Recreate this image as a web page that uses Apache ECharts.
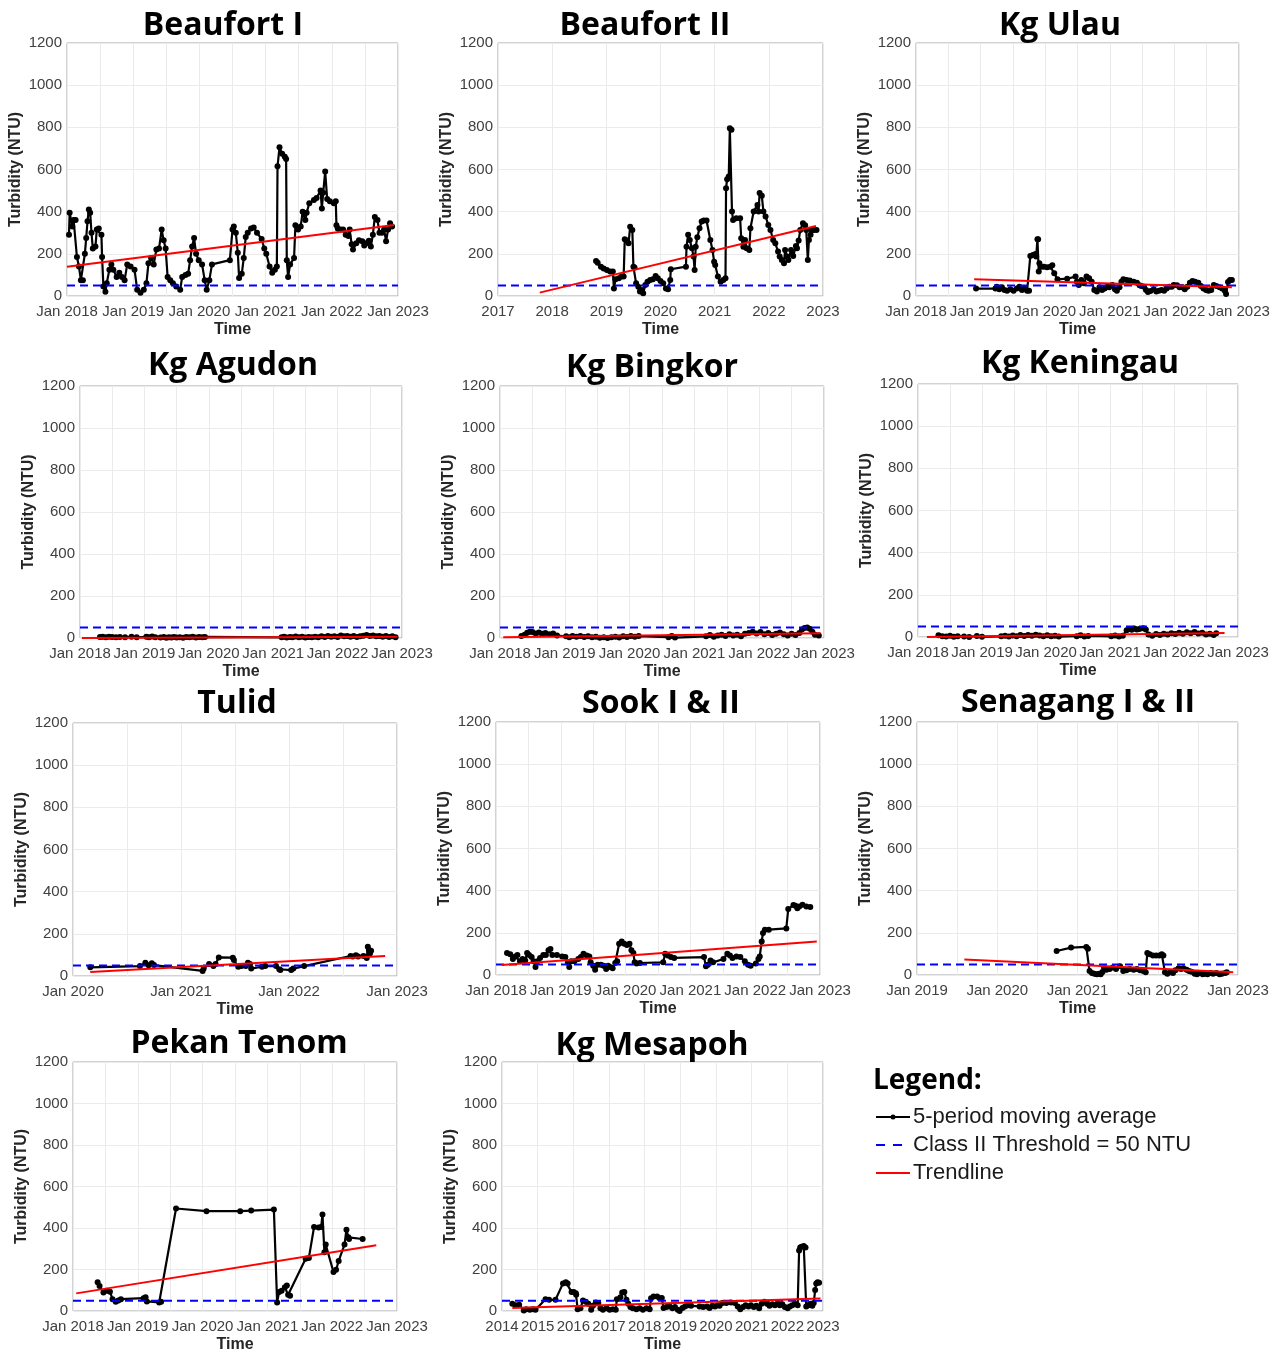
<!DOCTYPE html>
<html>
<head>
<meta charset="utf-8">
<script src="https://cdn.jsdelivr.net/npm/echarts@6/dist/echarts.min.js"></script>
<style>
  html, body { margin: 0; padding: 0; background: #fff; }
  #chart { width: 1280px; height: 1354px; }
</style>
</head>
<body>
<div id="chart"></div>
<script>
// Turbidity (NTU) 5-period moving averages per station, x = decimal year
const CLASS_II_THRESHOLD = 50;

const beaufortI = [[2018.03,290],[2018.04,395],[2018.08,330],[2018.10,360],[2018.13,360],[2018.15,185],[2018.18,140],[2018.21,75],[2018.24,75],[2018.27,200],[2018.29,275],[2018.31,355],[2018.33,410],[2018.35,395],[2018.37,300],[2018.39,225],[2018.43,235],[2018.45,315],[2018.48,320],[2018.52,290],[2018.53,185],[2018.55,45],[2018.58,20],[2018.60,60],[2018.64,125],[2018.67,150],[2018.70,125],[2018.75,90],[2018.79,110],[2018.83,90],[2018.87,75],[2018.91,150],[2018.96,140],[2019.02,125],[2019.06,30],[2019.11,15],[2019.16,30],[2019.20,60],[2019.23,155],[2019.27,180],[2019.31,150],[2019.35,220],[2019.39,225],[2019.43,315],[2019.46,265],[2019.49,225],[2019.52,90],[2019.56,75],[2019.60,60],[2019.65,45],[2019.71,30],[2019.74,90],[2019.79,100],[2019.83,105],[2019.86,170],[2019.89,235],[2019.92,275],[2019.95,200],[2019.99,170],[2020.04,150],[2020.08,75],[2020.11,30],[2020.15,75],[2020.19,150],[2020.46,170],[2020.50,315],[2020.52,330],[2020.55,300],[2020.58,205],[2020.60,85],[2020.64,105],[2020.67,180],[2020.70,280],[2020.73,300],[2020.78,320],[2020.82,325],[2020.87,300],[2020.94,270],[2020.98,225],[2021.01,200],[2021.06,140],[2021.10,110],[2021.14,125],[2021.17,140],[2021.18,615],[2021.21,705],[2021.25,675],[2021.29,660],[2021.31,650],[2021.32,170],[2021.34,90],[2021.37,150],[2021.43,180],[2021.45,335],[2021.49,315],[2021.53,330],[2021.56,400],[2021.60,360],[2021.62,395],[2021.66,440],[2021.73,455],[2021.77,465],[2021.83,500],[2021.85,415],[2021.87,490],[2021.90,590],[2021.93,460],[2021.97,450],[2022.03,440],[2022.06,450],[2022.07,335],[2022.09,320],[2022.13,315],[2022.17,315],[2022.21,290],[2022.25,285],[2022.27,315],[2022.30,245],[2022.32,220],[2022.37,250],[2022.41,265],[2022.46,260],[2022.49,240],[2022.52,250],[2022.56,262],[2022.59,235],[2022.62,290],[2022.65,375],[2022.69,360],[2022.72,300],[2022.76,300],[2022.79,315],[2022.82,260],[2022.85,315],[2022.88,345],[2022.91,330]];
const beaufortITrend = [[2018.00,139],[2022.94,337]];

const beaufortII = [[2018.81,166],[2018.84,158],[2018.90,139],[2018.95,131],[2019.01,123],[2019.07,116],[2019.12,116],[2019.14,36],[2019.17,79],[2019.23,84],[2019.28,92],[2019.32,92],[2019.34,269],[2019.38,263],[2019.41,250],[2019.44,329],[2019.48,313],[2019.50,139],[2019.52,135],[2019.55,60],[2019.59,44],[2019.62,21],[2019.66,28],[2019.68,13],[2019.72,52],[2019.76,68],[2019.81,76],[2019.86,79],[2019.91,95],[2019.95,84],[2020.00,71],[2020.05,60],[2020.10,36],[2020.14,32],[2020.18,76],[2020.19,127],[2020.47,139],[2020.48,234],[2020.51,290],[2020.54,266],[2020.58,226],[2020.61,187],[2020.63,123],[2020.65,234],[2020.68,279],[2020.72,321],[2020.76,353],[2020.80,358],[2020.85,358],[2020.92,266],[2020.96,218],[2020.99,163],[2021.01,147],[2021.06,92],[2021.11,68],[2021.16,76],[2021.20,84],[2021.21,511],[2021.23,554],[2021.26,567],[2021.28,796],[2021.31,788],[2021.32,401],[2021.34,361],[2021.40,369],[2021.47,369],[2021.49,274],[2021.53,234],[2021.56,266],[2021.59,226],[2021.64,218],[2021.66,321],[2021.72,401],[2021.79,432],[2021.81,401],[2021.83,488],[2021.87,475],[2021.90,401],[2021.94,377],[2021.99,337],[2022.03,313],[2022.08,266],[2022.12,250],[2022.17,211],[2022.20,187],[2022.24,171],[2022.28,155],[2022.30,218],[2022.34,187],[2022.36,171],[2022.41,218],[2022.45,190],[2022.50,237],[2022.52,226],[2022.55,263],[2022.58,313],[2022.63,345],[2022.67,336],[2022.69,313],[2022.72,171],[2022.74,266],[2022.77,290],[2022.79,313],[2022.83,313],[2022.88,313]];
const beaufortIITrend = [[2017.77,16],[2022.87,332]];

const kgUlau = [[2018.93,35],[2019.23,35],[2019.25,44],[2019.29,32],[2019.33,41],[2019.37,28],[2019.41,25],[2019.46,32],[2019.51,25],[2019.56,36],[2019.60,44],[2019.64,28],[2019.68,36],[2019.72,25],[2019.75,25],[2019.77,190],[2019.81,195],[2019.85,199],[2019.86,187],[2019.88,269],[2019.89,269],[2019.90,116],[2019.91,155],[2019.94,139],[2019.98,139],[2020.03,136],[2020.08,139],[2020.11,146],[2020.14,108],[2020.19,79],[2020.34,82],[2020.47,92],[2020.49,68],[2020.52,52],[2020.56,76],[2020.60,60],[2020.64,92],[2020.68,84],[2020.72,68],[2020.76,28],[2020.80,21],[2020.84,41],[2020.88,28],[2020.92,35],[2020.96,44],[2020.99,41],[2021.04,52],[2021.08,32],[2021.11,25],[2021.15,41],[2021.18,68],[2021.21,79],[2021.26,76],[2021.31,73],[2021.37,68],[2021.42,63],[2021.46,51],[2021.49,47],[2021.53,44],[2021.56,28],[2021.59,19],[2021.63,24],[2021.68,32],[2021.72,21],[2021.76,25],[2021.80,28],[2021.84,25],[2021.88,36],[2021.92,44],[2021.96,44],[2021.99,52],[2022.04,51],[2022.08,41],[2022.12,41],[2022.16,32],[2022.20,44],[2022.24,63],[2022.28,71],[2022.32,68],[2022.37,63],[2022.41,47],[2022.45,35],[2022.49,28],[2022.53,25],[2022.57,28],[2022.61,52],[2022.65,47],[2022.70,41],[2022.74,35],[2022.78,25],[2022.80,10],[2022.83,66],[2022.86,76],[2022.89,76]];
const kgUlauTrend = [[2018.90,79],[2022.89,41]];

const kgAgudon = [[2018.31,5],[2018.35,6],[2018.40,4],[2018.45,6],[2018.50,5],[2018.56,3],[2018.62,5],[2018.70,4],[2018.80,6],[2018.88,3],[2019.03,6],[2019.07,4],[2019.12,7],[2019.17,4],[2019.25,2],[2019.30,5],[2019.34,1],[2019.38,4],[2019.42,2],[2019.46,5],[2019.50,2],[2019.55,4],[2019.60,1],[2019.65,5],[2019.70,3],[2019.75,6],[2019.80,2],[2019.85,5],[2019.90,3],[2019.94,5],[2021.13,3],[2021.17,6],[2021.21,2],[2021.26,5],[2021.30,3],[2021.35,7],[2021.40,4],[2021.45,6],[2021.50,2],[2021.55,5],[2021.60,3],[2021.65,6],[2021.70,4],[2021.75,8],[2021.80,5],[2021.85,10],[2021.90,6],[2021.95,8],[2022.00,5],[2022.05,12],[2022.10,8],[2022.15,10],[2022.20,6],[2022.25,9],[2022.30,5],[2022.35,8],[2022.40,11],[2022.45,14],[2022.50,10],[2022.55,12],[2022.60,8],[2022.65,10],[2022.70,6],[2022.75,9],[2022.80,5],[2022.85,8],[2022.90,4]];
const kgAgudonTrend = [[2018.03,0],[2022.93,6]];

const kgBingkor = [[2018.33,10],[2018.38,15],[2018.42,25],[2018.46,30],[2018.50,28],[2018.55,22],[2018.60,26],[2018.65,20],[2018.70,24],[2018.76,18],[2018.82,22],[2018.88,12],[2019.02,8],[2019.07,4],[2019.12,10],[2019.18,6],[2019.24,9],[2019.30,5],[2019.36,8],[2019.42,3],[2019.48,6],[2019.54,1],[2019.60,4],[2019.66,0],[2019.72,3],[2019.78,6],[2019.84,2],[2019.90,8],[2019.96,5],[2020.02,10],[2020.08,6],[2020.14,9],[2020.60,4],[2020.65,10],[2020.70,2],[2021.18,8],[2021.24,14],[2021.30,6],[2021.36,12],[2021.42,16],[2021.48,10],[2021.54,18],[2021.60,12],[2021.66,16],[2021.72,8],[2021.78,20],[2021.84,24],[2021.90,30],[2021.96,22],[2022.02,28],[2022.08,18],[2022.14,24],[2022.20,14],[2022.26,20],[2022.32,26],[2022.38,18],[2022.44,12],[2022.50,20],[2022.56,14],[2022.62,24],[2022.66,40],[2022.70,48],[2022.74,50],[2022.78,44],[2022.82,30],[2022.86,16],[2022.92,12]];
const kgBingkorTrend = [[2018.05,3],[2022.95,23]];

const kgKeningau = [[2018.32,8],[2018.38,4],[2018.44,2],[2018.50,6],[2018.56,1],[2018.62,4],[2018.72,2],[2018.80,0],[2018.92,5],[2019.00,1],[2019.30,3],[2019.36,6],[2019.42,2],[2019.48,7],[2019.54,4],[2019.60,9],[2019.66,5],[2019.72,10],[2019.78,6],[2019.84,11],[2019.90,7],[2019.96,4],[2020.02,8],[2020.08,3],[2020.14,6],[2020.20,2],[2020.48,4],[2020.54,8],[2020.60,2],[2020.66,5],[2021.02,3],[2021.08,7],[2021.14,2],[2021.20,6],[2021.26,32],[2021.30,38],[2021.34,34],[2021.38,40],[2021.42,35],[2021.46,38],[2021.52,42],[2021.56,36],[2021.60,12],[2021.66,6],[2021.72,14],[2021.78,9],[2021.84,16],[2021.90,12],[2021.96,18],[2022.02,14],[2022.08,20],[2022.14,16],[2022.20,22],[2022.26,18],[2022.32,24],[2022.38,17],[2022.44,20],[2022.50,12],[2022.56,16],[2022.62,10],[2022.66,18]];
const kgKeningauTrend = [[2018.14,0],[2022.79,19]];

const tulid = [[2020.16,41],[2020.62,47],[2020.67,63],[2020.70,51],[2020.73,60],[2020.75,52],[2021.20,24],[2021.21,36],[2021.26,57],[2021.30,47],[2021.32,57],[2021.35,88],[2021.48,87],[2021.49,76],[2021.53,44],[2021.56,47],[2021.60,47],[2021.62,63],[2021.64,57],[2021.65,35],[2021.75,44],[2021.78,47],[2021.88,47],[2021.91,32],[2021.92,28],[2022.02,28],[2022.04,35],[2022.14,47],[2022.57,95],[2022.59,92],[2022.62,98],[2022.64,92],[2022.69,95],[2022.72,85],[2022.73,139],[2022.74,123],[2022.75,107],[2022.76,120]];
const tulidTrend = [[2020.16,19],[2022.89,95]];

const sook = [[2018.17,104],[2018.22,99],[2018.26,76],[2018.30,88],[2018.33,95],[2018.37,65],[2018.41,76],[2018.45,69],[2018.48,104],[2018.51,95],[2018.55,85],[2018.58,65],[2018.61,38],[2018.64,65],[2018.68,81],[2018.73,95],[2018.77,95],[2018.81,117],[2018.84,123],[2018.87,95],[2018.94,95],[2019.02,88],[2019.07,85],[2019.11,60],[2019.13,38],[2019.16,65],[2019.21,65],[2019.27,76],[2019.31,85],[2019.35,101],[2019.40,92],[2019.44,88],[2019.46,60],[2019.50,44],[2019.53,25],[2019.57,49],[2019.62,49],[2019.66,44],[2019.70,28],[2019.73,44],[2019.76,38],[2019.80,32],[2019.84,57],[2019.87,65],[2019.90,148],[2019.94,159],[2019.98,148],[2020.02,142],[2020.06,148],[2020.09,117],[2020.12,104],[2020.14,60],[2020.17,54],[2020.22,57],[2020.58,60],[2020.61,101],[2020.65,92],[2020.70,85],[2020.75,81],[2021.21,85],[2021.24,41],[2021.27,49],[2021.31,69],[2021.35,60],[2021.51,76],[2021.57,101],[2021.61,92],[2021.65,81],[2021.71,88],[2021.77,85],[2021.84,65],[2021.89,49],[2021.93,44],[2022.01,54],[2022.05,76],[2022.07,88],[2022.10,159],[2022.12,199],[2022.15,215],[2022.21,215],[2022.48,221],[2022.51,313],[2022.59,332],[2022.62,329],[2022.65,317],[2022.68,325],[2022.73,333],[2022.79,325],[2022.85,322]];
const sookTrend = [[2018.09,47],[2022.95,159]];

const senagang = [[2020.74,114],[2020.92,130],[2021.11,133],[2021.13,125],[2021.15,19],[2021.18,9],[2021.21,6],[2021.24,3],[2021.27,6],[2021.29,3],[2021.31,14],[2021.33,35],[2021.36,25],[2021.40,28],[2021.44,35],[2021.48,28],[2021.53,41],[2021.57,19],[2021.61,22],[2021.65,28],[2021.70,25],[2021.74,28],[2021.78,22],[2021.82,19],[2021.85,13],[2021.87,104],[2021.90,98],[2021.94,93],[2021.98,92],[2022.02,92],[2022.05,98],[2022.07,92],[2022.09,13],[2022.12,6],[2022.16,13],[2022.19,9],[2022.22,22],[2022.26,32],[2022.29,28],[2022.32,32],[2022.36,25],[2022.39,19],[2022.42,16],[2022.46,6],[2022.49,3],[2022.52,9],[2022.56,3],[2022.59,6],[2022.62,3],[2022.66,9],[2022.69,6],[2022.73,9],[2022.77,3],[2022.80,6],[2022.84,9],[2022.86,13]];
const senagangTrend = [[2019.59,73],[2022.94,13]];

const pekanTenom = [[2018.38,139],[2018.41,120],[2018.47,89],[2018.52,98],[2018.57,93],[2018.61,57],[2018.66,44],[2018.70,51],[2018.74,57],[2019.09,62],[2019.12,66],[2019.14,46],[2019.33,41],[2019.36,44],[2019.59,494],[2020.06,481],[2020.58,481],[2020.75,484],[2021.10,489],[2021.15,41],[2021.18,92],[2021.22,98],[2021.27,114],[2021.30,123],[2021.32,78],[2021.35,73],[2021.59,252],[2021.64,256],[2021.72,405],[2021.79,402],[2021.83,405],[2021.85,465],[2021.88,283],[2021.90,320],[2022.02,188],[2022.06,199],[2022.10,241],[2022.19,320],[2022.22,392],[2022.25,355],[2022.26,347],[2022.47,347]];
const pekanTenomTrend = [[2018.05,85],[2022.68,317]];

const kgMesapoh = [[2014.29,35],[2014.38,28],[2014.48,30],[2014.61,3],[2014.68,9],[2014.78,6],[2014.87,9],[2014.94,6],[2015.22,57],[2015.32,54],[2015.50,54],[2015.71,133],[2015.79,139],[2015.84,133],[2015.95,92],[2016.01,92],[2016.07,85],[2016.08,78],[2016.12,9],[2016.20,13],[2016.27,51],[2016.35,44],[2016.42,35],[2016.50,6],[2016.55,25],[2016.63,41],[2016.70,38],[2016.76,13],[2016.83,6],[2016.93,13],[2017.02,6],[2017.11,9],[2017.19,6],[2017.22,57],[2017.32,66],[2017.37,89],[2017.43,92],[2017.49,54],[2017.54,35],[2017.60,19],[2017.67,13],[2017.77,9],[2017.86,13],[2017.95,6],[2018.05,13],[2018.14,9],[2018.18,62],[2018.25,70],[2018.35,70],[2018.42,62],[2018.48,63],[2018.53,14],[2018.61,19],[2018.70,22],[2018.78,13],[2018.85,19],[2018.93,6],[2018.98,0],[2019.06,14],[2019.13,22],[2019.21,28],[2019.30,25],[2019.54,22],[2019.64,19],[2019.75,22],[2019.82,14],[2019.90,25],[2019.97,22],[2020.05,28],[2020.10,25],[2020.18,38],[2020.29,38],[2020.42,41],[2020.53,38],[2020.61,22],[2020.68,9],[2020.76,19],[2020.83,28],[2020.91,22],[2020.98,28],[2021.06,19],[2021.13,25],[2021.21,13],[2021.28,35],[2021.36,44],[2021.43,35],[2021.50,25],[2021.58,32],[2021.65,28],[2021.73,35],[2021.79,28],[2021.86,32],[2021.93,19],[2022.01,13],[2022.07,22],[2022.14,28],[2022.21,35],[2022.29,28],[2022.33,291],[2022.36,306],[2022.40,310],[2022.46,313],[2022.51,306],[2022.53,22],[2022.59,28],[2022.64,35],[2022.70,25],[2022.74,38],[2022.78,101],[2022.81,133],[2022.85,139],[2022.89,136]];
const kgMesapohTrend = [[2014.29,14],[2022.93,60]];

// Axis tick text
const yTicks = { min: 0, max: 1200, step: 200 };
const ntuLabel = v => String(Math.round(v));
const janYearLabel = v => { const h = Math.round(v * 2) / 2; return Number.isInteger(h) ? 'Jan ' + h : ''; };
const yearLabel = v => String(Math.round(v));

// Panel layout: plot box [left, top, width, height] and title centre
const panels = [
  { title: 'Beaufort I',       data: beaufortI,  trend: beaufortITrend,  xr: [2018, 2023, 0.5], fmt: janYearLabel, box: [67, 43, 331, 253],  tc: [223, 26] },
  { title: 'Beaufort II',      data: beaufortII, trend: beaufortIITrend, xr: [2017, 2023, 1],   fmt: yearLabel,    box: [498, 43, 325, 253], tc: [645, 26] },
  { title: 'Kg Ulau',          data: kgUlau,     trend: kgUlauTrend,     xr: [2018, 2023, 0.5], fmt: janYearLabel, box: [916, 43, 323, 253], tc: [1060, 26] },
  { title: 'Kg Agudon',        data: kgAgudon,   trend: kgAgudonTrend,   xr: [2018, 2023, 0.5], fmt: janYearLabel, box: [80, 386, 322, 252], tc: [233, 366] },
  { title: 'Kg Bingkor',       data: kgBingkor,  trend: kgBingkorTrend,  xr: [2018, 2023, 0.5], fmt: janYearLabel, box: [500, 386, 324, 252], tc: [652, 368] },
  { title: 'Kg Keningau',      data: kgKeningau, trend: kgKeningauTrend, xr: [2018, 2023, 0.5], fmt: janYearLabel, box: [918, 384, 320, 253], tc: [1080, 364] },
  { title: 'Tulid',            data: tulid,      trend: tulidTrend,      xr: [2020, 2023, 0.5], fmt: janYearLabel, box: [73, 723, 324, 253],  tc: [237, 704] },
  { title: 'Sook I & II',      data: sook,       trend: sookTrend,       xr: [2018, 2023, 0.5], fmt: janYearLabel, box: [496, 722, 324, 253], tc: [661, 704] },
  { title: 'Senagang I & II',  data: senagang,   trend: senagangTrend,   xr: [2019, 2023, 0.5], fmt: janYearLabel, box: [917, 722, 321, 253], tc: [1078, 703] },
  { title: 'Pekan Tenom',      data: pekanTenom, trend: pekanTenomTrend, xr: [2018, 2023, 0.5], fmt: janYearLabel, box: [73, 1062, 324, 253], tc: [239, 1044] },
  { title: 'Kg Mesapoh',       data: kgMesapoh,  trend: kgMesapohTrend,  xr: [2014, 2023, 1],   fmt: yearLabel,    box: [502, 1062, 321, 253], tc: [652, 1046] }
];

const AXIS_FONT = '"Liberation Sans", Arial, sans-serif';
const TITLE_FONT = '"Open Sans", "Noto Sans", sans-serif';

const grid = [], xAxis = [], yAxis = [], series = [], graphic = [];

panels.forEach((p, i) => {
  const [l, t, w, h] = p.box;
  grid.push({ left: l, top: t, width: w, height: h, show: true, borderColor: '#a6a6a6', borderWidth: 1, backgroundColor: '#fff' });
  xAxis.push({
    type: 'value', gridIndex: i, min: p.xr[0], max: p.xr[1], interval: p.xr[2],
    name: 'Time', nameLocation: 'middle', nameGap: 26,
    nameTextStyle: { fontFamily: AXIS_FONT, fontWeight: 'bold', fontSize: 16, color: '#262626' },
    axisLine: { show: false }, axisTick: { show: false },
    splitLine: { show: true, lineStyle: { color: '#ebebeb', width: 1 } },
    axisLabel: { formatter: p.fmt, showMinLabel: true, showMaxLabel: true, margin: 8, color: '#404040', fontSize: 15, fontFamily: AXIS_FONT }
  });
  yAxis.push({
    type: 'value', gridIndex: i, min: yTicks.min, max: yTicks.max, interval: yTicks.step,
    name: 'Turbidity (NTU)', nameLocation: 'middle', nameGap: 43, nameRotate: 90,
    nameTextStyle: { fontFamily: AXIS_FONT, fontWeight: 'bold', fontSize: 16, color: '#262626' },
    axisLine: { show: false }, axisTick: { show: false },
    splitLine: { show: true, lineStyle: { color: '#ebebeb', width: 1 } },
    axisLabel: { formatter: ntuLabel, showMinLabel: true, showMaxLabel: true, margin: 5, color: '#404040', fontSize: 15, fontFamily: AXIS_FONT }
  });
  series.push({
    name: '5-period moving average', type: 'line', xAxisIndex: i, yAxisIndex: i, data: p.data,
    symbol: 'circle', symbolSize: 6, showSymbol: true,
    lineStyle: { color: '#000', width: 2.2 }, itemStyle: { color: '#000' }, z: 2
  });
  series.push({
    name: 'Class II Threshold', type: 'line', xAxisIndex: i, yAxisIndex: i,
    data: [[p.xr[0], CLASS_II_THRESHOLD], [p.xr[1], CLASS_II_THRESHOLD]],
    symbol: 'none', lineStyle: { color: '#0000ff', width: 2, type: [8, 5] }, z: 3
  });
  series.push({
    name: 'Trendline', type: 'line', xAxisIndex: i, yAxisIndex: i, data: p.trend,
    symbol: 'none', lineStyle: { color: '#ff0000', width: 2 }, z: 4
  });
  graphic.push({
    type: 'text', x: p.tc[0], y: p.tc[1],
    style: { text: p.title, fontFamily: TITLE_FONT, fontWeight: 'bold', fontSize: 32, fill: '#000', align: 'center', verticalAlign: 'middle' }
  });
});

// Legend block
const legendTextStyle = { fontFamily: AXIS_FONT, fontSize: 22, fill: '#1a1a1a', verticalAlign: 'middle', align: 'left' };
graphic.push(
  { type: 'text', x: 873, y: 1081, style: { text: 'Legend:', fontFamily: TITLE_FONT, fontWeight: 'bold', fontSize: 28, fill: '#000', verticalAlign: 'middle', align: 'left' } },
  { type: 'line', shape: { x1: 876, y1: 1117, x2: 910, y2: 1117 }, style: { stroke: '#000', lineWidth: 2 } },
  { type: 'circle', shape: { cx: 893, cy: 1117, r: 2.5 }, style: { fill: '#000' } },
  { type: 'text', x: 913, y: 1117, style: Object.assign({ text: '5-period moving average' }, legendTextStyle) },
  { type: 'line', shape: { x1: 876, y1: 1145, x2: 903, y2: 1145 }, style: { stroke: '#0000ff', lineWidth: 2, lineDash: [9, 8] } },
  { type: 'text', x: 913, y: 1145, style: Object.assign({ text: 'Class II Threshold = 50 NTU' }, legendTextStyle) },
  { type: 'line', shape: { x1: 876, y1: 1173, x2: 910, y2: 1173 }, style: { stroke: '#ff0000', lineWidth: 2 } },
  { type: 'text', x: 913, y: 1173, style: Object.assign({ text: 'Trendline' }, legendTextStyle) }
);

const chart = echarts.init(document.getElementById('chart'), null, { renderer: 'canvas' });
chart.setOption({
  backgroundColor: '#fff',
  animation: false,
  grid, xAxis, yAxis, series, graphic
});
</script>
</body>
</html>
